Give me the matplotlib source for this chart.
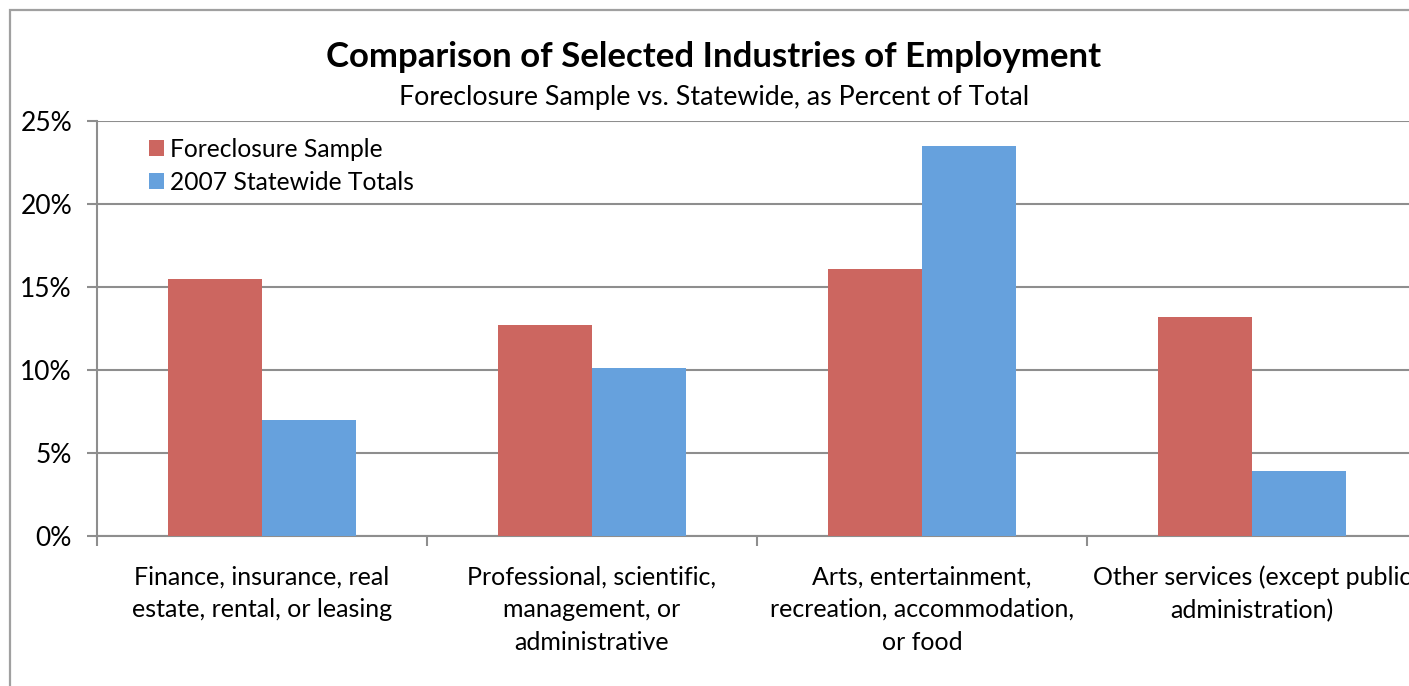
import numpy as np
import matplotlib.pyplot as plt
from matplotlib.patches import Rectangle
from matplotlib.ticker import FuncFormatter

plt.rcParams['font.family'] = ['Lato', 'DejaVu Sans']

industries = [
    "Finance, insurance, real\nestate, rental, or leasing",
    "Professional, scientific,\nmanagement, or\nadministrative",
    "Arts, entertainment,\nrecreation, accommodation,\nor food",
    "Other services (except public\nadministration)",
]
foreclosure = [15.5, 12.7, 16.1, 13.2]
statewide = [7.0, 10.1, 23.5, 3.9]
series_names = ["Foreclosure Sample", "2007 Statewide Totals"]

red = "#CC6660"
blue = "#66A1DD"
grid_gray = "#8E8E8E"

W, H = 1409, 686
fig = plt.figure(figsize=(W / 100, H / 100), dpi=100)

# outer chart border (right and bottom edges fall off the canvas)
fig.patches.append(Rectangle((10 / W, -0.1), 1.2, 1 - 10 / H + 0.1,
                             transform=fig.transFigure, fill=False,
                             edgecolor="#A0A0A0", linewidth=1.6))

ax = fig.add_axes([97 / W, (H - 536) / H, 1320 / W, 415 / H])

x = np.arange(len(industries))
bw = 1 / 3.5
ax.bar(x - bw / 2, foreclosure, bw, color=red, label=series_names[0], zorder=3)
ax.bar(x + bw / 2, statewide, bw, color=blue, label=series_names[1], zorder=3)

ax.set_xlim(-0.5, len(industries) - 0.5)
ax.set_ylim(0, 25)
ax.set_yticks(np.arange(0, 26, 5))
ax.yaxis.set_major_formatter(FuncFormatter(lambda v, p: f"{v:.0f}%"))
ax.grid(axis="y", color=grid_gray, linewidth=1.5, zorder=0)

ax.set_xticks(np.arange(len(industries) + 1) - 0.5)
ax.set_xticklabels([])
ax.set_xticks(x, minor=True)
ax.set_xticklabels(industries, minor=True, fontsize=18, linespacing=1.52)
ax.tick_params(axis="x", which="minor", length=0, pad=21)
ax.tick_params(axis="x", which="major", length=7, width=1.5, color=grid_gray)
ax.tick_params(axis="y", length=7, width=1.5, color=grid_gray, labelsize=19, pad=11)

for side in ["top", "right"]:
    ax.spines[side].set_visible(False)
for side in ["left", "bottom"]:
    ax.spines[side].set_color(grid_gray)
    ax.spines[side].set_linewidth(1.5)

ax.legend(loc="upper left", bbox_to_anchor=(0.023, 1.013), frameon=False,
          fontsize=17.7, handlelength=0.6, handleheight=0.6, handletextpad=0.25,
          labelspacing=0.4)

fig.text(714 / W, 1 - 57 / H, "Comparison of Selected Industries of Employment",
         ha="center", va="center", fontsize=25, fontweight="bold")
fig.text(714 / W, 1 - 97 / H, "Foreclosure Sample vs. Statewide, as Percent of Total",
         ha="center", va="center", fontsize=19.3)

fig.savefig("out.png", dpi=100)
